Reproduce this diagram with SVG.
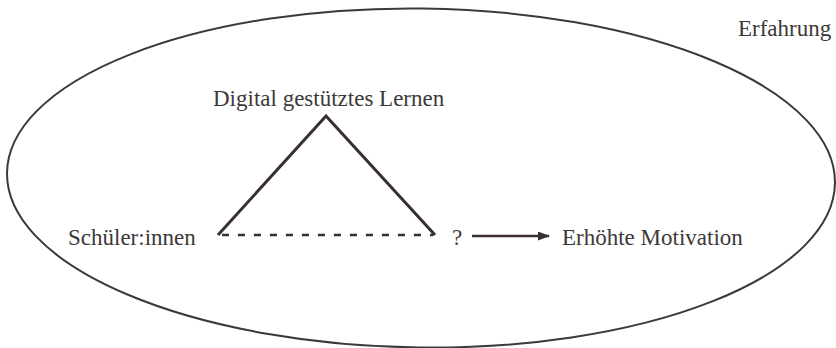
<svg xmlns="http://www.w3.org/2000/svg" width="836" height="348" viewBox="0 0 836 348">
  <style>
    text { font-family: 'Liberation Serif', 'Times New Roman', serif; font-size: 23px; fill: #3d3838; }
    .edge { stroke: #3a2f2f; stroke-width: 3; fill: none; stroke-linecap: butt; stroke-linejoin: miter; }
    .dash { stroke: #3a2f2f; stroke-width: 2.4; fill: none; stroke-dasharray: 7 9; }
    .arrow { stroke: #3a2f2f; stroke-width: 2.5; fill: none; }
  </style>
  <defs>
    <marker id="ah" markerWidth="12" markerHeight="10" refX="11" refY="4.5" orient="auto" markerUnits="userSpaceOnUse">
      <path d="M0,0 L12,4.5 L0,9 Z" fill="#3a2f2f"/>
    </marker>
  </defs>
  <rect width="836" height="348" fill="#ffffff"/>
  <g id="erfahrung">
    <ellipse cx="421" cy="178" rx="414" ry="169.5" transform="rotate(0.7 421 178)" fill="none" stroke="#3a3a3a" stroke-width="2"/>
    <text x="738" y="36">Erfahrung</text>
  </g>
  <g id="digital">
    <text x="213" y="106">Digital gestütztes Lernen</text>
  </g>
  <g id="schueler">
    <text x="68" y="245">Schüler:innen</text>
  </g>
  <g id="frage">
    <text x="452" y="245">?</text>
  </g>
  <g id="motivation">
    <text x="562" y="245">Erhöhte Motivation</text>
  </g>
  <g id="connectors">
    <polyline class="edge" points="218,235 326,116 435,235"/>
    <line class="dash" x1="222" y1="235" x2="433" y2="235"/>
    <line class="arrow" x1="472" y1="236" x2="549" y2="236" marker-end="url(#ah)"/>
  </g>
</svg>
